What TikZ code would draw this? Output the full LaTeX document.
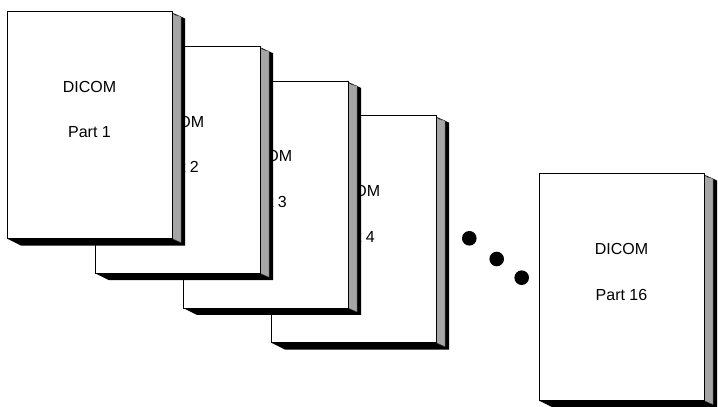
\documentclass[tikz,border=0pt]{standalone}
\usepackage{fontspec}
\setmainfont{Liberation Sans}
\usepackage{tikz}
\definecolor{sidegray}{RGB}{166,166,166}

\tikzset{
  front/.style={draw=black, fill=white, line width=0.8pt},
  side/.style={fill=sidegray, draw=black!70, line width=0.4pt},
  backshade/.style={fill=black},
  booktext/.style={font=\fontsize{16}{19}\selectfont, inner sep=0pt},
  dot/.style={circle, fill=black, minimum size=14.6pt, inner sep=0pt}
}

% one volume: left, top, part number
\newcommand{\dicombook}[3]{%
  \fill[backshade] (#1+165,#2+1) -- (#1+178,#2+7) -- (#1+178,#2+234) -- (#1+14,#2+234) -- (#1,#2+227) -- cycle;
  \filldraw[side] (#1+165,#2) .. controls (#1+166,#2+4) and (#1+170,#2+4) .. (#1+174,#2+5) -- (#1+174,#2+231) -- (#1+165,#2+227) -- cycle;
  \draw[front] (#1,#2) rectangle (#1+165,#2+227);
  \node[booktext] (dicom#3) at (#1+82.5,#2+75.5) {DICOM};
  \node[booktext] (part#3) at (#1+82.5,#2+121) {Part #3};
}

\begin{document}
\begin{tikzpicture}[x=1pt, y=-1pt]
  \useasboundingbox (0,0) rectangle (718,407);

  % stacked volumes, the front one drawn last
  \foreach \i in {4,3,2,1} {
    \pgfmathsetmacro\bx{7+88*(\i-1)}
    \pgfmathsetmacro\by{11.5+34.7*(\i-1)}
    \dicombook{\bx}{\by}{\i}
  }

  \node[dot] (dot1) at (469.3,238.3) {};
  \node[dot] (dot2) at (496.7,259) {};
  \node[dot] (dot3) at (521.7,277.7) {};

  \dicombook{539}{173.5}{16}
\end{tikzpicture}
\end{document}
